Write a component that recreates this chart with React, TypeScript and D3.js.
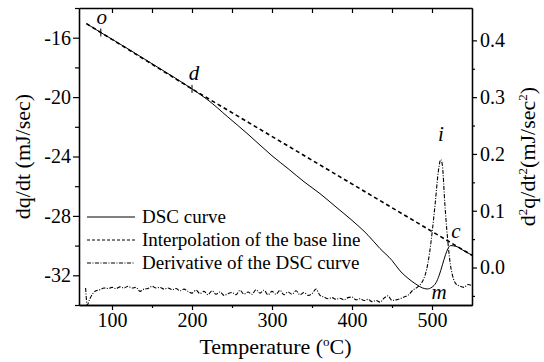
import React, { useRef, useEffect } from 'react';
import * as d3 from 'd3';

const WIDTH = 544;
const HEIGHT = 362;

const xTicks = [100, 200, 300, 400, 500];
const xMinor = [150, 250, 350, 450];
const leftTicks = [-16, -20, -24, -28, -32];
const leftMinor = [-14, -18, -22, -26, -30, -34];
const rightTicks = [0.0, 0.1, 0.2, 0.3, 0.4];
const rightMinor = [-0.05, 0.05, 0.15, 0.25, 0.35];

// DSC curve, left axis (mJ/sec)
const dscTemp = [68, 86, 100, 150, 200, 220, 244, 270, 300, 322, 340, 360, 380, 400, 420, 435, 450, 460, 470, 480, 488, 494, 500, 505, 509, 513, 517, 520, 523, 530, 540, 550];
const dscValue = [-15.05, -15.65, -16.1, -17.75, -19.45, -20.2, -21.3, -22.5, -23.95, -24.9, -25.7, -26.5, -27.4, -28.3, -29.3, -30.2, -31.0, -31.7, -32.2, -32.6, -32.85, -32.92, -32.8, -32.5, -32.0, -31.3, -30.6, -30.2, -30.0, -30.05, -30.35, -30.65];

// interpolated base line
const baseTemp = [68, 200, 550];
const baseValue = [-15.05, -19.45, -30.65];

// derivative of the DSC curve, right axis
const derivTemp = [67, 69, 72, 76, 80, 85, 90, 95, 100, 105, 110, 115, 120, 125, 130, 135, 140, 145, 150, 155, 160, 165, 170, 175, 180, 185, 190, 195, 200, 205, 210, 215, 220, 225, 230, 235, 240, 245, 250, 255, 260, 265, 270, 275, 280, 285, 290, 295, 300, 305, 310, 315, 320, 325, 330, 335, 340, 345, 350, 355, 360, 365, 370, 375, 380, 385, 390, 395, 400, 405, 410, 415, 420, 425, 430, 435, 440, 445, 450, 455, 460, 465, 470, 476, 483, 489, 493, 497, 500, 504, 508, 511, 513, 516, 520, 523, 525, 529, 535, 540, 545, 550];
const derivValue = [-0.036, -0.066, -0.056, -0.046, -0.041, -0.039, -0.036, -0.037, -0.035, -0.037, -0.034, -0.036, -0.033, -0.036, -0.035, -0.042, -0.038, -0.037, -0.033, -0.036, -0.035, -0.038, -0.036, -0.039, -0.037, -0.041, -0.038, -0.042, -0.045, -0.040, -0.046, -0.042, -0.048, -0.041, -0.047, -0.043, -0.049, -0.046, -0.044, -0.048, -0.040, -0.047, -0.043, -0.047, -0.039, -0.045, -0.040, -0.048, -0.042, -0.047, -0.040, -0.048, -0.043, -0.047, -0.041, -0.048, -0.044, -0.049, -0.046, -0.038, -0.049, -0.052, -0.055, -0.053, -0.056, -0.054, -0.057, -0.053, -0.052, -0.057, -0.055, -0.058, -0.056, -0.060, -0.058, -0.061, -0.054, -0.050, -0.058, -0.057, -0.055, -0.052, -0.049, -0.040, -0.033, -0.022, -0.005, 0.026, 0.060, 0.113, 0.170, 0.190, 0.180, 0.113, 0.043, 0.005, -0.010, -0.027, -0.033, -0.035, -0.030, -0.032];

const legendItems = [
  { label: 'DSC curve', dash: null },
  { label: 'Interpolation of the base line', dash: '3,2' },
  { label: 'Derivative of the DSC curve', dash: '4,1.5,1,1.5' },
];

const FONT = "'Liberation Serif', 'Times New Roman', Times, serif";

const App: React.FC = () => {
  const svgRef = useRef<SVGSVGElement>(null);

  useEffect(() => {
    if (!svgRef.current) return;
    const svg = d3.select(svgRef.current);
    svg.selectAll('*').remove();

    const left = 79, right = 472, top = 8, bottom = 305;

    const x = d3.scaleLinear().domain([58.75, 550]).range([left, right]);
    const yL = d3.scaleLinear().domain([-34, -14]).range([bottom, top]);
    const yR = d3.scaleLinear().domain([-0.066, 0.457]).range([bottom, top]);

    const styleAxis = (g: d3.Selection<SVGGElement, unknown, null, undefined>) => {
      g.attr('font-family', null).attr('font-size', null);
      g.selectAll('path').attr('stroke', '#000').attr('stroke-width', 1.3);
      g.selectAll('line').attr('stroke', '#000').attr('stroke-width', 1.2);
      g.selectAll('text').style('font-family', FONT).style('font-size', '20px').attr('fill', '#000');
    };

    // bottom axis
    const bx = svg.append('g').attr('transform', `translate(0,${bottom})`)
      .call(d3.axisBottom(x).tickValues(xTicks).tickSize(5).tickSizeOuter(0).tickPadding(3).tickFormat((d) => String(d)));
    styleAxis(bx);
    const bxm = svg.append('g').attr('transform', `translate(0,${bottom})`)
      .call(d3.axisBottom(x).tickValues(xMinor).tickSize(3).tickSizeOuter(0).tickFormat(() => ''));
    styleAxis(bxm);

    // top axis, ticks inward
    const tx = svg.append('g').attr('transform', `translate(0,${top})`)
      .call(d3.axisTop(x).tickValues([...xTicks, ...xMinor]).tickSize(-5).tickSizeOuter(0).tickFormat(() => ''));
    styleAxis(tx);

    // left axis
    const ly = svg.append('g').attr('transform', `translate(${left},0)`)
      .call(d3.axisLeft(yL).tickValues(leftTicks).tickSize(6).tickSizeOuter(0).tickPadding(2).tickFormat((d) => String(d)));
    styleAxis(ly);
    const lym = svg.append('g').attr('transform', `translate(${left},0)`)
      .call(d3.axisLeft(yL).tickValues(leftMinor).tickSize(4).tickSizeOuter(0).tickFormat(() => ''));
    styleAxis(lym);

    // right axis
    const ry = svg.append('g').attr('transform', `translate(${right},0)`)
      .call(d3.axisRight(yR).tickValues(rightTicks).tickSize(5).tickSizeOuter(0).tickPadding(3).tickFormat(d3.format('.1f') as any));
    styleAxis(ry);
    const rym = svg.append('g').attr('transform', `translate(${right},0)`)
      .call(d3.axisRight(yR).tickValues(rightMinor).tickSize(3).tickSizeOuter(0).tickFormat(() => ''));
    styleAxis(rym);

    // curves
    const plot = svg.append('g');

    const baseLine = d3.line<number>().x((d, i) => x(baseTemp[i])).y((d) => yL(d));
    plot.append('path')
      .attr('d', baseLine(baseValue))
      .attr('fill', 'none')
      .attr('stroke', '#000')
      .attr('stroke-width', 1.6)
      .attr('stroke-dasharray', '4,3');

    const dscLine = d3.line<number>().x((d, i) => x(dscTemp[i])).y((d) => yL(d)).curve(d3.curveMonotoneX);
    plot.append('path')
      .attr('d', dscLine(dscValue))
      .attr('fill', 'none')
      .attr('stroke', '#000')
      .attr('stroke-width', 1);

    const derivLine = d3.line<number>().x((d, i) => x(derivTemp[i])).y((d) => yR(d)).curve(d3.curveMonotoneX);
    plot.append('path')
      .attr('d', derivLine(derivValue))
      .attr('fill', 'none')
      .attr('stroke', '#000')
      .attr('stroke-width', 1.1)
      .attr('stroke-dasharray', '4,1.5,1,1.5');

    // short marks at o and d
    [[86, -15.65], [200, -19.45]].forEach(([t, v]) => {
      plot.append('line')
        .attr('x1', x(t)).attr('x2', x(t))
        .attr('y1', yL(v) - 4).attr('y2', yL(v) + 4)
        .attr('stroke', '#000').attr('stroke-width', 1);
    });

    // point labels
    const labels = [
      { text: 'o', px: x(86) + 1, py: yL(-15.65) - 9 },
      { text: 'd', px: x(200) + 2, py: yL(-19.45) - 9 },
      { text: 'i', px: x(511), py: yR(0.19) - 19 },
      { text: 'c', px: x(525) + 4, py: yL(-30.0) - 8 },
      { text: 'm', px: x(494) + 12, py: yL(-32.92) + 10 },
    ];
    labels.forEach((l) => {
      svg.append('text')
        .attr('x', l.px).attr('y', l.py)
        .attr('text-anchor', 'middle')
        .style('font-family', FONT)
        .style('font-style', 'italic')
        .style('font-size', '21px')
        .text(l.text);
    });

    // legend
    const legend = svg.append('g').attr('transform', 'translate(87,217)');
    legendItems.forEach((item, i) => {
      const row = legend.append('g').attr('transform', `translate(0,${i * 23})`);
      row.append('line')
        .attr('x1', 0).attr('x2', 48).attr('y1', 0).attr('y2', 0)
        .attr('stroke', '#000').attr('stroke-width', 1)
        .attr('stroke-dasharray', item.dash ?? null);
      row.append('text')
        .attr('x', 55).attr('y', 6)
        .style('font-family', FONT)
        .style('font-size', '19px')
        .text(item.label);
    });

    // axis titles
    const xt = svg.append('text')
      .attr('x', (left + right) / 2).attr('y', 354)
      .attr('text-anchor', 'middle')
      .style('font-family', FONT).style('font-size', '22px');
    xt.append('tspan').text('Temperature (');
    xt.append('tspan').style('font-size', '13px').attr('dy', -8).text('o');
    xt.append('tspan').attr('dy', 8).text('C)');

    svg.append('text')
      .attr('transform', `translate(30,${(top + bottom) / 2}) rotate(-90)`)
      .attr('text-anchor', 'middle')
      .style('font-family', FONT).style('font-size', '22px')
      .text('dq/dt (mJ/sec)');

    const rt = svg.append('text')
      .attr('transform', `translate(535,${(top + bottom) / 2}) rotate(-90)`)
      .attr('text-anchor', 'middle')
      .style('font-family', FONT).style('font-size', '22px');
    rt.append('tspan').text('d');
    rt.append('tspan').style('font-size', '13px').attr('dy', -8).text('2');
    rt.append('tspan').attr('dy', 8).text('q/dt');
    rt.append('tspan').style('font-size', '13px').attr('dy', -8).text('2');
    rt.append('tspan').attr('dy', 8).text('(mJ/sec');
    rt.append('tspan').style('font-size', '13px').attr('dy', -8).text('2');
    rt.append('tspan').attr('dy', 8).text(')');
  }, []);

  return (
    <div style={{ position: 'absolute', left: 0, top: 0 }}>
      <svg ref={svgRef} width={WIDTH} height={HEIGHT} style={{ display: 'block', background: '#fff' }} />
    </div>
  );
};

export default App;
